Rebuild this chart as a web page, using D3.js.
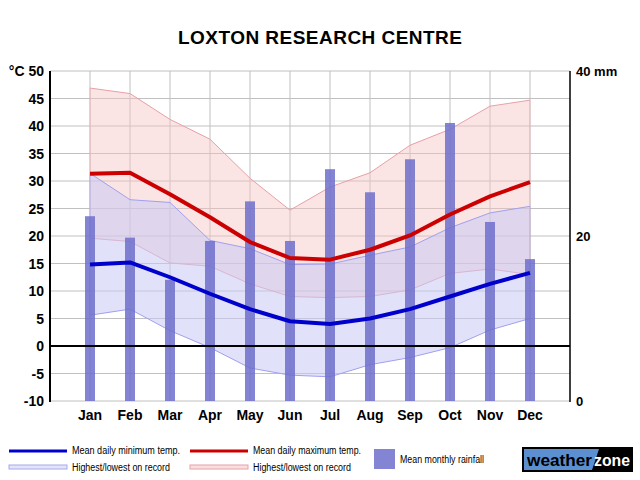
<!DOCTYPE html>
<html><head><meta charset="utf-8">
<script src="https://cdn.jsdelivr.net/npm/d3@7"></script>
<style>body{margin:0;background:#fff;font-family:"Liberation Sans",Arial,sans-serif}</style>
</head><body>
<svg id="c" width="640" height="480"></svg>
<script>
const months = ["Jan","Feb","Mar","Apr","May","Jun","Jul","Aug","Sep","Oct","Nov","Dec"];
const meanMax = [31.3,31.5,27.6,23.4,18.9,16.0,15.7,17.5,20.1,23.9,27.2,29.8];
const meanMin = [14.8,15.2,12.5,9.5,6.7,4.5,4.0,5.0,6.7,9.0,11.3,13.3];
const recHighMax = [46.9,45.9,41.2,37.6,30.5,24.7,28.9,31.5,36.5,39.4,43.6,44.7];
const recLowMax = [19.6,19.0,15.1,14.5,11.3,9.0,8.8,9.0,10.2,13.2,14.0,13.0];
const recHighMin = [31.4,26.6,26.1,19.2,17.7,14.8,14.9,16.5,18.0,21.5,24.2,25.4];
const recLowMin = [5.6,6.7,2.8,-0.3,-4.0,-5.3,-5.6,-3.4,-2.1,-0.3,2.9,5.0];
const rainfall = [22.4,19.8,14.7,19.4,24.2,19.4,28.1,25.3,29.3,33.7,21.7,17.2];
const tempTicks = [-10,-5,0,5,10,15,20,25,30,35,40,45,50];
const rainTicks = [0,20,40];

const svg = d3.select("#c");
const L = 50, R = 570, T = 71, B = 401;
const x = d3.scalePoint().domain(["", ...months, " "]).range([L, R]);
const y = d3.scaleLinear().domain([-10, 50]).range([B, T]);
const yr = d3.scaleLinear().domain([0, 40]).range([B, T]);

svg.append("text").attr("x", 320).attr("y", 44).attr("text-anchor", "middle")
  .attr("font-size", 19).attr("font-weight", "bold").attr("textLength", 284)
  .text("LOXTON RESEARCH CENTRE");

// grid
const g = svg.append("g");
g.selectAll(".hg").data(tempTicks).join("line")
  .attr("x1", L).attr("x2", R).attr("y1", d => y(d)).attr("y2", d => y(d))
  .attr("stroke", "#c0c0c0").attr("stroke-width", 1);
g.selectAll(".vg").data(months).join("line")
  .attr("x1", d => x(d)).attr("x2", d => x(d)).attr("y1", T).attr("y2", B)
  .attr("stroke", "#c0c0c0").attr("stroke-width", 1);

// bands
function band(hi, lo, fill, stroke, op) {
  const area = d3.area().x((d, i) => x(months[i])).y0((d, i) => y(lo[i])).y1(d => y(d));
  svg.append("path").datum(hi).attr("d", area).attr("fill", fill).attr("fill-opacity", op);
  const ln = d3.line().x((d, i) => x(months[i])).y(d => y(d));
  svg.append("path").datum(hi).attr("d", ln).attr("fill", "none").attr("stroke", stroke).attr("stroke-width", 1);
  svg.append("path").datum(lo).attr("d", ln).attr("fill", "none").attr("stroke", stroke).attr("stroke-width", 1);
  svg.append("line").attr("x1", x(months[0])).attr("x2", x(months[0])).attr("y1", y(hi[0])).attr("y2", y(lo[0]))
    .attr("stroke", stroke).attr("stroke-width", 1).attr("stroke-opacity", 0.5);
  svg.append("line").attr("x1", x(months[11])).attr("x2", x(months[11])).attr("y1", y(hi[11])).attr("y2", y(lo[11]))
    .attr("stroke", stroke).attr("stroke-width", 1).attr("stroke-opacity", 0.5);
}
band(recHighMax, recLowMax, "#f4c4c4", "#e8a0a8", 0.45);
band(recHighMin, recLowMin, "#c8c8f4", "#a0a0f0", 0.55);

// bars
svg.selectAll(".bar").data(rainfall).join("rect")
  .attr("x", (d, i) => x(months[i]) - 5).attr("width", 10)
  .attr("y", d => yr(d)).attr("height", d => yr(0) - yr(d))
  .attr("fill", "#6e6ecc").attr("fill-opacity", 0.85);

// mean lines
const line = d3.line().x((d, i) => x(months[i])).y(d => y(d));
svg.append("path").datum(meanMax).attr("d", line).attr("fill", "none").attr("stroke", "#cc0000").attr("stroke-width", 4).attr("stroke-linejoin", "round");
svg.append("path").datum(meanMin).attr("d", line).attr("fill", "none").attr("stroke", "#0000cc").attr("stroke-width", 4).attr("stroke-linejoin", "round");

// zero line and axes
svg.append("line").attr("x1", L).attr("x2", R).attr("y1", y(0)).attr("y2", y(0)).attr("stroke", "#000").attr("stroke-width", 2);
svg.append("line").attr("x1", L).attr("x2", L).attr("y1", T).attr("y2", B + 1).attr("stroke", "#000").attr("stroke-width", 2);
svg.append("line").attr("x1", R).attr("x2", R).attr("y1", T).attr("y2", B + 1).attr("stroke", "#000").attr("stroke-width", 1.5);

// axis labels
svg.selectAll(".yl").data(tempTicks).join("text")
  .attr("x", 44).attr("y", d => y(d) + 5).attr("text-anchor", "end")
  .attr("font-size", 14).attr("font-weight", "bold")
  .text(d => d === 50 ? "°C 50" : d);
svg.selectAll(".yr").data(rainTicks).join("text")
  .attr("x", 576).attr("y", d => yr(d) + 5).attr("text-anchor", "start")
  .attr("font-size", 13).attr("font-weight", "bold")
  .text(d => d === 40 ? "40 mm" : d);
svg.selectAll(".xl").data(months).join("text")
  .attr("x", d => x(d)).attr("y", 420).attr("text-anchor", "middle")
  .attr("font-size", 14).attr("font-weight", "bold").text(d => d);

// legend
const lg = svg.append("g").attr("font-size", 10).attr("fill", "#000");
function legLine(x0, col, label) {
  lg.append("line").attr("x1", x0).attr("x2", x0 + 58).attr("y1", 451).attr("y2", 451).attr("stroke", col).attr("stroke-width", 3);
  lg.append("text").attr("x", x0 + 63).attr("y", 454).attr("textLength", 108).attr("lengthAdjust", "spacingAndGlyphs").text(label);
}
function legBand(x0, fill, stroke, label) {
  lg.append("rect").attr("x", x0).attr("y", 465).attr("width", 58).attr("height", 4).attr("fill", fill).attr("stroke", stroke);
  lg.append("text").attr("x", x0 + 63).attr("y", 471).attr("textLength", 98).attr("lengthAdjust", "spacingAndGlyphs").text(label);
}
legLine(9, "#0000cc", "Mean daily minimum temp.");
legBand(9, "#e4e4f8", "#a8a8ec", "Highest/lowest on record");
legLine(190, "#cc0000", "Mean daily maximum temp.");
legBand(190, "#f8e0e0", "#e8a0a8", "Highest/lowest on record");
lg.append("rect").attr("x", 374).attr("y", 449).attr("width", 21).attr("height", 20).attr("fill", "#8484d4");
lg.append("text").attr("x", 400).attr("y", 463).attr("textLength", 84).attr("lengthAdjust", "spacingAndGlyphs").text("Mean monthly rainfall");

// logo
const lo = svg.append("g");
lo.append("rect").attr("x", 522).attr("y", 447).attr("width", 111).attr("height", 25).attr("fill", "#000");
lo.append("path").attr("d", "M524,449 L599,449 L592,470 L524,470 Z").attr("fill", "#5b8fd0");
lo.append("text").attr("x", 527).attr("y", 466).attr("font-size", 17).attr("font-weight", "bold").attr("fill", "#000").attr("textLength", 65).attr("lengthAdjust", "spacingAndGlyphs").text("weather");
lo.append("text").attr("x", 594).attr("y", 466).attr("font-size", 17).attr("font-weight", "bold").attr("fill", "#fff").attr("textLength", 36).attr("lengthAdjust", "spacingAndGlyphs").text("zone");
</script>
</body></html>
